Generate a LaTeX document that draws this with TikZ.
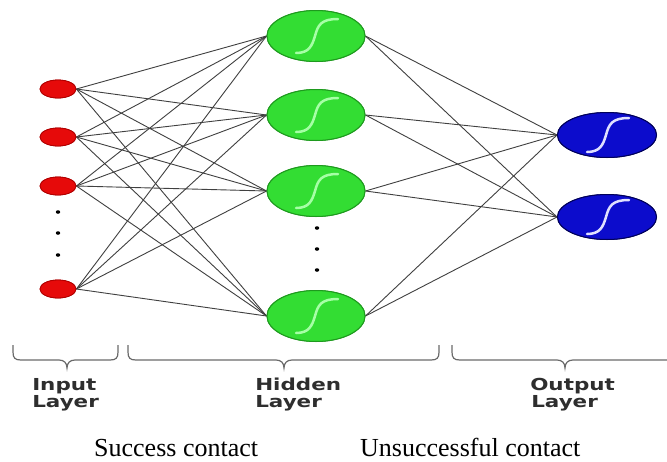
\documentclass[tikz,border=0pt]{standalone}
\usepackage{fontspec}
\setmainfont{Liberation Serif}
\newfontfamily\labfont{DejaVu Sans}
\usetikzlibrary{shapes.geometric}
\definecolor{redfill}{HTML}{E60A0A}
\definecolor{redline}{HTML}{B00000}
\definecolor{greenfill}{HTML}{33DD33}
\definecolor{greenline}{HTML}{1E9A1E}
\definecolor{bluefill}{HTML}{0C0CCC}
\definecolor{blueline}{HTML}{00005A}
\definecolor{wire}{HTML}{404040}
\definecolor{bracecol}{HTML}{6A6A6A}
\definecolor{labcol}{HTML}{2E2E2E}
\newcommand\mybrace[3]{%
  \draw[bracestyle] (#1,345) -- (#1,352) .. controls (#1,358) and (#1+2,360) .. (#1+8,360)
    -- (#2-8,360) .. controls (#2-3,360) and (#2,363) .. (#2,368)
    .. controls (#2,363) and (#2+3,360) .. (#2+8,360)
    -- (#3-8,360) .. controls (#3-2,360) and (#3,358) .. (#3,352) -- (#3,345);}
\tikzset{
  innode/.style={ellipse,draw=redline,fill=redfill,line width=0.8pt,minimum width=36pt,minimum height=18pt,inner sep=0pt},
  hidnode/.style={ellipse,draw=greenline,fill=greenfill,line width=1pt,minimum width=98pt,minimum height=51pt,inner sep=0pt},
  outnode/.style={ellipse,draw=blueline,fill=bluefill,line width=1pt,minimum width=99pt,minimum height=45pt,inner sep=0pt},
  dotnode/.style={ellipse,fill=black,minimum width=4.5pt,minimum height=3.5pt,inner sep=0pt},
  wirestyle/.style={draw=wire,line width=0.9pt},
  bracestyle/.style={draw=bracecol,line width=1.2pt},
  layerlab/.style={anchor=base west,text=labcol,font=\labfont\bfseries\fontsize{16.5}{18}\selectfont,xscale=1.3,inner sep=0pt},
  caplab/.style={anchor=base west,font=\fontsize{26}{30}\selectfont,inner sep=0pt},
  sig/.pic={\draw[line width=2.5pt,line cap=round,pic actions] (-20,17) .. controls (-7,17) and (-4,10) .. (-1,0) .. controls (2,-11) and (5,-17) .. (22,-17);}
}
\begin{document}
\begin{tikzpicture}[x=1pt,y=-1pt]
\useasboundingbox[fill=white] (0,0) rectangle (667,461);
% input nodes
\node[innode] (i1) at (58,89) {};
\node[innode] (i2) at (58,137) {};
\node[innode] (i3) at (58,186) {};
\node[innode] (i4) at (58,289) {};
\node[dotnode] (d1) at (58,212) {};
\node[dotnode] (d2) at (58,233) {};
\node[dotnode] (d3) at (58,255) {};
% hidden nodes
\node[hidnode] (h1) at (316,36) {};
\node[hidnode] (h2) at (316,115) {};
\node[hidnode] (h3) at (316,191) {};
\node[hidnode] (h4) at (316,316) {};
\node[dotnode] (d4) at (317,228) {};
\node[dotnode] (d5) at (317,249) {};
\node[dotnode] (d6) at (317,270) {};
% output nodes
\node[outnode] (o1) at (607,135) {};
\node[outnode] (o2) at (607,217) {};
% connections
\foreach \a in {1,2,3,4}{
  \foreach \b in {1,2,3,4}{
    \draw[wirestyle] (i\a.east) -- (h\b.west);
  }
  \foreach \c in {1,2}{
    \draw[wirestyle] (h\a.east) -- (o\c.west);
  }
}
% redraw nodes on top
\node[innode] at (i1) {};
\node[innode] at (i2) {};
\node[innode] at (i3) {};
\node[innode] at (i4) {};
\foreach \n in {h1,h2,h3,h4}{
  \node[hidnode] at (\n) {};
  \pic[draw=green!35!white] at (\n) {sig};
}
\foreach \n in {o1,o2}{
  \node[outnode] at (\n) {};
  \pic[draw=blue!12!white] at (\n) {sig};
}
% braces
\mybrace{13}{67}{118}
\mybrace{128}{284}{439}
\draw[bracestyle] (452,345) -- (452,352) .. controls (452,358) and (454,360) .. (460,360)
    -- (557,360) .. controls (562,360) and (565,363) .. (565,368)
    .. controls (565,363) and (568,360) .. (573,360) -- (667,360);
% labels
\node[layerlab] (l1) at (32,390) {Input};
\node[layerlab] (l2) at (32,407) {Layer};
\node[layerlab] (l3) at (255,390) {Hidden};
\node[layerlab] (l4) at (255,407) {Layer};
\node[layerlab] (l5) at (530,390) {Output};
\node[layerlab] (l6) at (531,407) {Layer};
\node[caplab] (c1) at (94,456) {Success contact};
\node[caplab] (c2) at (360,456) {Unsuccessful contact};
\end{tikzpicture}
\end{document}
